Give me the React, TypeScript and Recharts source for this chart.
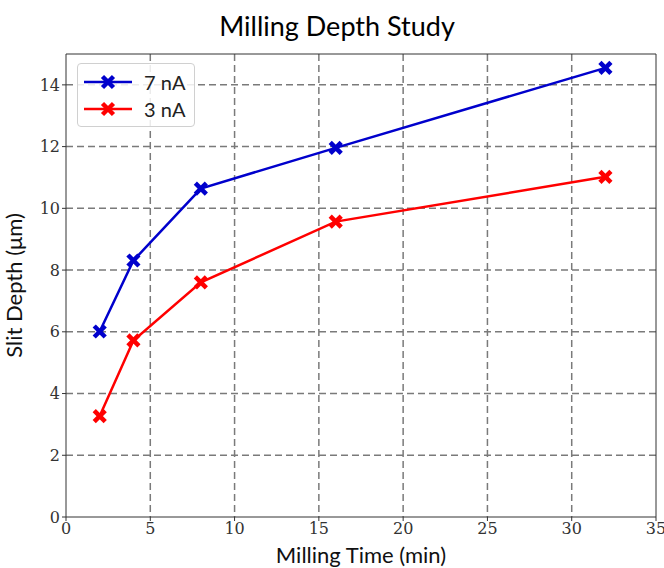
import {
  LineChart,
  Line,
  XAxis,
  YAxis,
  CartesianGrid,
  ReferenceLine,
} from "recharts";

const times = [2, 4, 8, 16, 32];
const depth7nA = [6.01, 8.31, 10.64, 11.96, 14.55];
const depth3nA = [3.27, 5.72, 7.6, 9.57, 11.02];
const xTicks = [0, 5, 10, 15, 20, 25, 30, 35];
const yTicks = [0, 2, 4, 6, 8, 10, 12, 14];

const data = times.map((t, i) => ({
  time: t,
  a7: depth7nA[i],
  a3: depth3nA[i],
}));

const SERIES = [
  { key: "a7", name: "7 nA", color: "#0000CC" },
  { key: "a3", name: "3 nA", color: "#FF0000" },
];

const SANS = "Lato, 'DejaVu Sans', sans-serif";
const SERIF = "'DejaVu Serif', 'Liberation Serif', serif";

// filled "X" marker like matplotlib's
const XMark = ({ cx, cy, color }: { cx: number; cy: number; color: string }) => {
  const r = 5.5;
  return (
    <g>
      <line x1={cx - r} y1={cy - r} x2={cx + r} y2={cy + r} stroke={color} strokeWidth={4.5} />
      <line x1={cx - r} y1={cy + r} x2={cx + r} y2={cy - r} stroke={color} strokeWidth={4.5} />
    </g>
  );
};

const renderDot = (color: string) => (props: any) => {
  if (props.cx == null || props.cy == null) return <g key={props.key} />;
  return <XMark key={props.key} cx={props.cx} cy={props.cy} color={color} />;
};

const LegendBox = () => (
  <div
    style={{
      position: "absolute",
      left: 77,
      top: 63,
      boxSizing: "border-box",
      width: 118,
      border: "1px solid #d0d0d0",
      borderRadius: 4,
      background: "rgba(255,255,255,0.85)",
      padding: "4px 6px",
      fontFamily: SANS,
      fontSize: 20,
      color: "#222",
      whiteSpace: "nowrap",
    }}
  >
    {SERIES.map((s) => (
      <div key={s.key} style={{ display: "flex", alignItems: "center", height: 27 }}>
        <svg width={48} height={20} style={{ marginRight: 12, flexShrink: 0 }}>
          <line x1={0} y1={10} x2={48} y2={10} stroke={s.color} strokeWidth={2.5} />
          <XMark cx={24} cy={10} color={s.color} />
        </svg>
        <span>{s.name}</span>
      </div>
    ))}
  </div>
);

export default function App() {
  return (
    <div style={{ position: "absolute", left: 0, top: 0, width: 664, height: 568, background: "#fff", overflow: "hidden" }}>
      <div
        style={{
          position: "absolute",
          top: 9,
          left: 0,
          width: 674,
          textAlign: "center",
          fontFamily: SANS,
          fontSize: 27,
        }}
      >
        Milling Depth Study
      </div>
      <LineChart
        width={664}
        height={568}
        data={data}
        margin={{ top: 53, right: 8, bottom: 0, left: 0 }}
      >
        <CartesianGrid
          stroke="#7a7a7a"
          strokeWidth={1.5}
          strokeDasharray="7 4"
          horizontalValues={[2, 4, 6, 8, 10, 12, 14]}
          verticalValues={[5, 10, 15, 20, 25, 30]}
        />
        <XAxis
          dataKey="time"
          type="number"
          domain={[0, 35]}
          ticks={xTicks}
          height={51}
          stroke="#333"
          tickSize={4}
          tick={{ fill: "#333", fontFamily: SERIF, fontSize: 16 }}
          label={{
            value: "Milling Time (min)",
            position: "insideBottom",
            offset: 5,
            fill: "#111",
            fontFamily: SANS,
            fontSize: 22,
          }}
        />
        <XAxis xAxisId="top" orientation="top" type="number" domain={[0, 35]} tick={false} tickLine={false} height={1} stroke="#333" />
        <YAxis
          type="number"
          domain={[0, 15]}
          ticks={yTicks}
          width={66}
          stroke="#333"
          tickSize={4}
          tick={{ fill: "#333", fontFamily: SERIF, fontSize: 16 }}
          label={{
            value: "Slit Depth (μm)",
            angle: -90,
            position: "insideLeft",
            offset: 14,
            style: { textAnchor: "middle" },
            fill: "#111",
            fontFamily: SANS,
            fontSize: 22,
          }}
        />
        <ReferenceLine x={35} stroke="#333" strokeWidth={1} />
        {SERIES.map((s) => (
          <Line
            key={s.key}
            dataKey={s.key}
            name={s.name}
            stroke={s.color}
            strokeWidth={2.5}
            dot={renderDot(s.color)}
            activeDot={false}
            isAnimationActive={false}
          />
        ))}
      </LineChart>
      <LegendBox />
    </div>
  );
}
